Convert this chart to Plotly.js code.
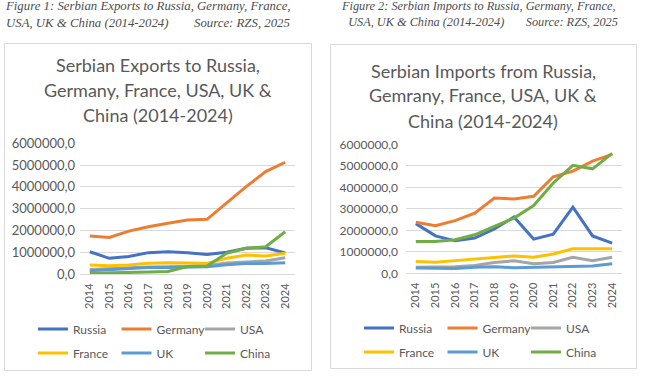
<!DOCTYPE html>
<html><head><meta charset="utf-8">
<script src="https://cdn.plot.ly/plotly-3.0.1.min.js"></script>
<style>html,body{margin:0;padding:0;background:#fff;}#chart{width:645px;height:377px;}</style>
</head><body><div id="chart"></div>
<script>
const years = ['2014','2015','2016','2017','2018','2019','2020','2021','2022','2023','2024'];
const seriesNames = ['Russia','Germany','USA','France','UK','China'];
const seriesColors = ['#4472C4','#ED7D31','#A5A5A5','#FFC000','#5B9BD5','#70AD47'];

// Figure 1: exports
const expRussia  = [1020000, 720000, 800000, 980000, 1020000, 980000, 900000, 1000000, 1180000, 1200000, 970000];
const expGermany = [1745000, 1680000, 1970000, 2170000, 2330000, 2480000, 2510000, 3250000, 4010000, 4700000, 5130000];
const expUSA     = [210000, 250000, 280000, 320000, 330000, 350000, 380000, 500000, 550000, 600000, 750000];
const expFrance  = [410000, 380000, 410000, 490000, 520000, 520000, 490000, 720000, 870000, 830000, 950000];
const expUK      = [150000, 200000, 250000, 300000, 300000, 330000, 330000, 420000, 480000, 480000, 520000];
const expChina   = [30000, 40000, 60000, 90000, 120000, 340000, 370000, 950000, 1180000, 1250000, 1940000];

// Figure 2: imports
const impRussia  = [2310000, 1740000, 1510000, 1640000, 2060000, 2620000, 1590000, 1820000, 3080000, 1740000, 1400000];
const impGermany = [2370000, 2210000, 2450000, 2800000, 3500000, 3460000, 3580000, 4490000, 4750000, 5220000, 5530000];
const impUSA     = [280000, 280000, 310000, 360000, 500000, 580000, 440000, 500000, 750000, 590000, 750000];
const impFrance  = [550000, 510000, 590000, 650000, 730000, 810000, 750000, 900000, 1140000, 1140000, 1140000];
const impUK      = [250000, 220000, 220000, 280000, 310000, 260000, 280000, 310000, 340000, 340000, 440000];
const impChina   = [1480000, 1480000, 1560000, 1790000, 2180000, 2570000, 3150000, 4200000, 5020000, 4860000, 5580000];

const yTicks = [0, 1000000, 2000000, 3000000, 4000000, 5000000, 6000000];

const captionLeft1 = 'Figure 1: Serbian Exports to Russia, Germany, France,';
const captionLeft2 = 'USA, UK & China (2014-2024)';
const captionRight1 = 'Figure 2: Serbian Imports to Russia, Germany, France,';
const captionRight2 = 'USA, UK & China (2014-2024)';
const captionSource = 'Source: RZS, 2025';
const titleLeft = ['Serbian Exports to Russia,', 'Germany, France, USA, UK &', 'China (2014-2024)'];
const titleRight = ['Serbian Imports from Russia,', 'Gemrany, France, USA, UK &', 'China (2014-2024)'];

const W = 645, H = 377;
const px = x => x / W;
const py = y => 1 - y / H;
const nb = n => '&nbsp;'.repeat(n);

const expData = [expRussia, expGermany, expUSA, expFrance, expUK, expChina];
const impData = [impRussia, impGermany, impUSA, impFrance, impUK, impChina];
const traces = [];
expData.forEach((ys, i) => traces.push({
  type: 'scatter', mode: 'lines', x: years, y: ys, name: seriesNames[i],
  xaxis: 'x', yaxis: 'y', line: {color: seriesColors[i], width: 3},
  legend: i < 3 ? 'legend' : 'legend2', hoverinfo: 'skip'
}));
impData.forEach((ys, i) => traces.push({
  type: 'scatter', mode: 'lines', x: years, y: ys, name: seriesNames[i],
  xaxis: 'x2', yaxis: 'y2', line: {color: seriesColors[i], width: 3},
  legend: i < 3 ? 'legend3' : 'legend4', hoverinfo: 'skip'
}));

const xCommon = {
  type: 'category', range: [-0.5, 10.5], showgrid: false, showline: true,
  linecolor: '#d9d9d9', linewidth: 1, ticks: '', tickangle: -90, ticklabelstandoff: 4,
  tickfont: {family: 'Lato, sans-serif', size: 11, color: '#595959'}, fixedrange: true
};
const yCommon = {
  range: [0, 6000000], tickvals: yTicks, tickformat: '.1f', showgrid: true,
  gridcolor: '#d9d9d9', gridwidth: 1, zeroline: false, showline: false, ticks: '',
  fixedrange: true
};
const legendCommon = {
  orientation: 'h', xanchor: 'left', yanchor: 'middle', bgcolor: 'rgba(0,0,0,0)',
  font: {family: 'Lato, sans-serif', size: 12, color: '#595959'},
  entrywidth: 38.5, entrywidthmode: 'pixels', traceorder: 'normal'
};

const ann = [];
function addText(text, x, y, font, xanchor) {
  ann.push({text: text, x: px(x), y: py(y), xref: 'paper', yref: 'paper',
    xanchor: xanchor, yanchor: 'middle', align: 'left', showarrow: false, font: font, borderpad: 0});
}
const capFontL = {family: '"Liberation Serif", serif', size: 12.8, color: '#4d4d4d'};
const capFontR = {family: '"Liberation Serif", serif', size: 12.3, color: '#4d4d4d'};
addText('<i>' + captionLeft1 + '<br>' + captionLeft2 + nb(8) + captionSource + '</i>', 4, 14.5, capFontL, 'left');
addText('<i>' + captionRight1 + '<br>' + nb(2) + captionRight2 + nb(7) + captionSource + '</i>', 340, 14.5, capFontR, 'left');

const titleFont = {family: 'Lato, sans-serif', size: 18, color: '#595959'};
const tlY = [65.5, 90.5, 115.5];
const trY = [70.5, 95.5, 120.5];
titleLeft.forEach((t, i) => addText(t, 157.5, tlY[i], titleFont, 'center'));
titleRight.forEach((t, i) => addText(t, 483, trY[i], titleFont, 'center'));

const layout = {
  width: W, height: H, margin: {l: 0, r: 0, t: 0, b: 0},
  paper_bgcolor: '#ffffff', plot_bgcolor: '#ffffff', separators: ',.',
  showlegend: true,
  xaxis: Object.assign({}, xCommon, {domain: [px(80), px(295)], anchor: 'y'}),
  yaxis: Object.assign({}, yCommon, {domain: [py(274), py(143.3)], anchor: 'x', ticklabelstandoff: 4,
    tickfont: {family: 'Lato, sans-serif', size: 13, color: '#595959'}}),
  xaxis2: Object.assign({}, xCommon, {domain: [px(406), px(622)], anchor: 'y2'}),
  yaxis2: Object.assign({}, yCommon, {domain: [py(273.3), py(144.3)], anchor: 'x2', ticklabelstandoff: 7,
    tickfont: {family: 'Lato, sans-serif', size: 12, color: '#595959'}}),
  legend: Object.assign({}, legendCommon, {x: px(33), y: py(329)}),
  legend2: Object.assign({}, legendCommon, {x: px(33), y: py(353)}),
  legend3: Object.assign({}, legendCommon, {x: px(359), y: py(328)}),
  legend4: Object.assign({}, legendCommon, {x: px(359), y: py(352)}),
  annotations: ann,
  shapes: [
    {type: 'rect', xref: 'paper', yref: 'paper', x0: px(4.5), x1: px(311.5), y0: py(370.5), y1: py(43.5), line: {color: '#d9d9d9', width: 1}, fillcolor: 'rgba(0,0,0,0)', layer: 'below'},
    {type: 'rect', xref: 'paper', yref: 'paper', x0: px(330.5), x1: px(636.5), y0: py(368.5), y1: py(44.5), line: {color: '#d9d9d9', width: 1}, fillcolor: 'rgba(0,0,0,0)', layer: 'below'}
  ]
};
Plotly.newPlot('chart', traces, layout, {displayModeBar: false, staticPlot: true});
</script>
</body></html>
